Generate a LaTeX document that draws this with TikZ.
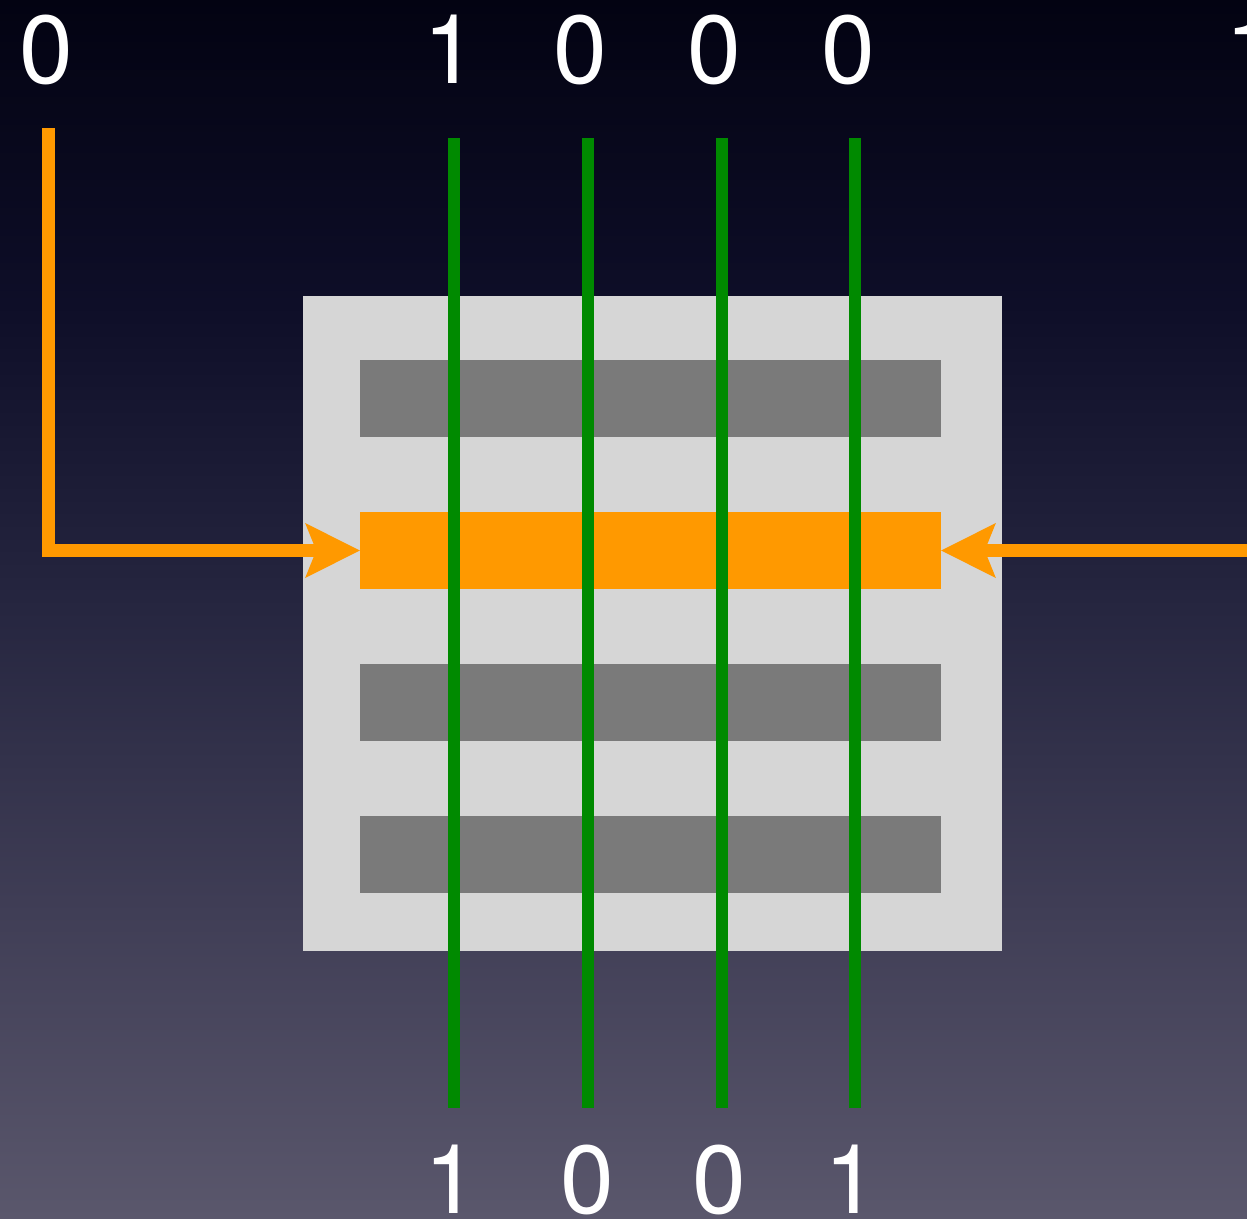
\documentclass[tikz,border=0pt]{standalone}
\usepackage{fontspec}
\setmainfont{TeX Gyre Heros}
\usetikzlibrary{arrows.meta}
\definecolor{bgA}{RGB}{3,3,18}
\definecolor{bgB}{RGB}{14,14,40}
\definecolor{bgC}{RGB}{38,38,64}
\definecolor{bgD}{RGB}{64,62,86}
\definecolor{bgE}{RGB}{90,87,108}
\definecolor{panelgray}{RGB}{214,214,214}
\definecolor{bargray}{RGB}{122,122,122}
\definecolor{ora}{RGB}{255,153,0}
\definecolor{grn}{RGB}{0,138,0}
\pgfdeclareverticalshading{bgshade}{100bp}{color(0bp)=(bgE); color(25bp)=(bgE); color(37.5bp)=(bgD); color(50bp)=(bgC); color(62.5bp)=(bgB); color(75bp)=(bgA); color(100bp)=(bgA)}
\begin{document}
\begin{tikzpicture}[x=0.02cm,y=-0.02cm,
  panel/.style={fill=panelgray, minimum width=13.98cm, minimum height=13.1cm, inner sep=0pt, outer sep=0pt},
  bar/.style={minimum width=11.62cm, minimum height=1.54cm, inner sep=0pt, outer sep=0pt},
  wire/.style={draw=grn, line width=0.24cm},
  oline/.style={draw=ora, line width=0.26cm, line join=miter, -{Stealth[length=30.6pt, width=30pt, inset=5.7pt]}},
  digit/.style={text=white, font=\fontsize{55}{55}\selectfont, anchor=base, inner sep=0pt}]
\useasboundingbox (0,0) rectangle (1247,1218);
\clip (0,0) rectangle (1247,1218);
\shade[shading=bgshade] (0,0) rectangle (1247,1218);
% panel and bars
\node[panel] (pan) at (652.5,623.5) {};
\node[bar, fill=bargray] (bar1) at (650.5,398.5) {};
\node[bar, fill=ora] (bar2) at (650.5,550.5) {};
\node[bar, fill=bargray] (bar3) at (650.5,702.5) {};
\node[bar, fill=bargray] (bar4) at (650.5,854.5) {};
% orange connectors
\coordinate (ltop) at (48.5,128);
\coordinate (rstart) at (1262,550.5);
\draw[oline] (ltop) |- (bar2.west);
\draw[oline] (rstart) -- (bar2.east);
% green wires
\foreach \i/\x in {1/454,2/588,3/722,4/855}{
  \coordinate (g\i t) at (\x,138);
  \coordinate (g\i b) at (\x,1108);
  \draw[wire] (g\i t) -- (g\i b);
}
% top labels
\node[digit] (t0) at (46,83) {0};
\node[digit] (t1) at (450,83) {1};
\node[digit] (t2) at (580,83) {0};
\node[digit] (t3) at (714,83) {0};
\node[digit] (t4) at (848,83) {0};
\node[digit] (t5) at (1252,83) {1};
% bottom labels
\node[digit] (b1) at (451,1213) {1};
\node[digit] (b2) at (587,1213) {0};
\node[digit] (b3) at (719,1213) {0};
\node[digit] (b4) at (851,1213) {1};
\end{tikzpicture}
\end{document}
